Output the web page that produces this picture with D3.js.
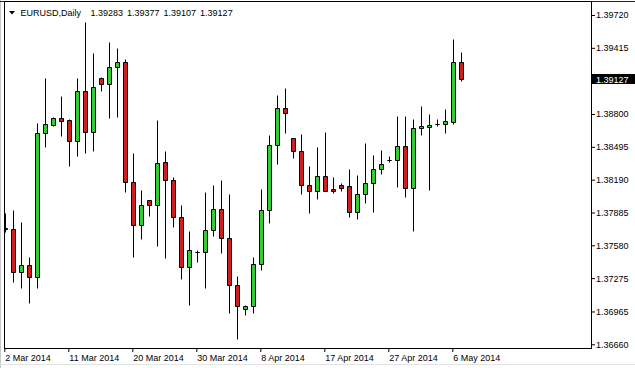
<!DOCTYPE html>
<html>
<head>
<meta charset="utf-8">
<script src="https://cdn.jsdelivr.net/npm/d3@7"></script>
<style>
  html, body { margin: 0; padding: 0; background: #fff; }
  svg { display: block; font-family: "Liberation Sans", Arial, sans-serif; }
</style>
</head>
<body>
<div id="chart"></div>
<script>
// EURUSD daily bars, 2 Mar - 7 May 2014 (Sun-Fri sessions)
const dates = [
  "2014-03-02","2014-03-03","2014-03-04","2014-03-05","2014-03-06","2014-03-07",
  "2014-03-09","2014-03-10","2014-03-11","2014-03-12","2014-03-13","2014-03-14",
  "2014-03-16","2014-03-17","2014-03-18","2014-03-19","2014-03-20","2014-03-21",
  "2014-03-23","2014-03-24","2014-03-25","2014-03-26","2014-03-27","2014-03-28",
  "2014-03-30","2014-03-31","2014-04-01","2014-04-02","2014-04-03","2014-04-04",
  "2014-04-06","2014-04-07","2014-04-08","2014-04-09","2014-04-10","2014-04-11",
  "2014-04-13","2014-04-14","2014-04-15","2014-04-16","2014-04-17","2014-04-18",
  "2014-04-20","2014-04-21","2014-04-22","2014-04-23","2014-04-24","2014-04-25",
  "2014-04-27","2014-04-28","2014-04-29","2014-04-30","2014-05-01","2014-05-02",
  "2014-05-04","2014-05-05","2014-05-06","2014-05-07"
];
const open = [
  1.37745,1.37729,1.37335,1.37394,1.37288,1.38621,
  1.38695,1.38760,1.38744,1.38546,1.39011,1.38630,
  1.39132,1.39076,1.39234,1.39280,1.38165,1.37766,
  1.37998,1.37952,1.38351,1.38184,1.37840,1.37381,
  1.37522,1.37515,1.37719,1.37914,1.37645,1.37208,
  1.36985,1.37013,1.37403,1.37911,1.38509,1.38853,
  1.38574,1.38453,1.38140,1.38087,1.38224,1.38100,
  1.38140,1.38131,1.37892,1.38057,1.38156,1.38286,
  1.38376,1.38370,1.38500,1.38110,1.38667,1.38676,
  1.38705,1.38704,1.38728,1.39283
];
const high = [
  1.37877,1.37908,1.37799,1.37468,1.38719,1.39132,
  1.38775,1.38967,1.38751,1.39132,1.39655,1.39364,
  1.39147,1.39469,1.39413,1.39308,1.38435,1.38094,
  1.38000,1.38744,1.38456,1.38212,1.37952,1.37716,
  1.37536,1.38075,1.38140,1.38187,1.38054,1.37295,
  1.37025,1.37474,1.38106,1.38605,1.38977,1.39042,
  1.38576,1.38614,1.38317,1.38493,1.38633,1.38217,
  1.38156,1.38289,1.38233,1.38531,1.38419,1.38465,
  1.38410,1.38781,1.38781,1.38754,1.38874,1.38800,
  1.38754,1.38846,1.39497,1.39377
];
const low = [
  1.37706,1.37242,1.37186,1.37046,1.37186,1.38496,
  1.38690,1.38598,1.38320,1.38412,1.38435,1.38459,
  1.39017,1.38766,1.38775,1.38078,1.37468,1.37636,
  1.37855,1.37576,1.37465,1.37747,1.37264,1.37025,
  1.37427,1.37186,1.37669,1.37511,1.36953,1.36706,
  1.36935,1.36948,1.37350,1.37784,1.38335,1.38621,
  1.38394,1.38059,1.37883,1.38013,1.38085,1.38063,
  1.38087,1.37846,1.37824,1.37976,1.37892,1.38242,
  1.38357,1.38124,1.38032,1.37716,1.38605,1.38094,
  1.38689,1.38626,1.38704,1.39107
];
const close = [
  1.37735,1.37335,1.37394,1.37288,1.38621,1.38704,
  1.38760,1.38738,1.38546,1.39011,1.38630,1.39048,
  1.39076,1.39234,1.39280,1.38165,1.37766,1.37952,
  1.37952,1.38342,1.38184,1.37840,1.37381,1.37533,
  1.37520,1.37719,1.37914,1.37645,1.37208,1.37016,
  1.37013,1.37403,1.37905,1.38509,1.38853,1.38807,
  1.38453,1.38140,1.38087,1.38224,1.38087,1.38087,
  1.38115,1.37892,1.38057,1.38156,1.38286,1.38335,
  1.38374,1.38500,1.38110,1.38667,1.38689,1.38698,
  1.38703,1.38735,1.39280,1.39127
];
const priceTicks = [1.39720,1.39415,1.38800,1.38495,1.38190,1.37885,1.37580,1.37275,1.36965,1.36660];
const dateTicks = ["2014-03-02","2014-03-11","2014-03-20","2014-03-30","2014-04-08","2014-04-17","2014-04-27","2014-05-06"];
const dateTickLabels = ["2 Mar 2014","11 Mar 2014","20 Mar 2014","30 Mar 2014","8 Apr 2014","17 Apr 2014","27 Apr 2014","6 May 2014"];
const symbol = "EURUSD,Daily";

const W = 635, H = 368;
const plotL = 4, plotT = 1, plotR = 591, plotB = 348;

const bars = dates.map((d, i) => ({ i: i, date: d, o: open[i], h: high[i], l: low[i], c: close[i] }));
const last = bars[bars.length - 1];

const x = d3.scaleLinear().domain([0, dates.length - 1]).range([5.3, 5.3 + 8 * (dates.length - 1)]);
const y = d3.scaleLinear().domain([1.36660, 1.39720]).range([344.3, 15]);

const svg = d3.select("#chart").append("svg")
  .attr("width", W)
  .attr("height", H);

svg.append("rect")
  .attr("x", 0).attr("y", 0).attr("width", W).attr("height", H)
  .attr("fill", "#fff");

// window edges
svg.append("line")
  .attr("x1", 0.5).attr("x2", 0.5).attr("y1", 0).attr("y2", H)
  .attr("stroke", "#c8c8c8");
svg.append("line")
  .attr("x1", 0).attr("x2", W).attr("y1", 364.5).attr("y2", 364.5)
  .attr("stroke", "#e2e2e2");
svg.append("line")
  .attr("x1", 0).attr("x2", W).attr("y1", plotT + 0.5).attr("y2", plotT + 0.5)
  .attr("stroke", "#222");

svg.append("clipPath").attr("id", "plot")
  .append("rect")
  .attr("x", plotL + 1).attr("y", plotT + 1)
  .attr("width", plotR - plotL - 1).attr("height", plotB - plotT - 1);

const plot = svg.append("g").attr("clip-path", "url(#plot)");

const cx = d => Math.round(x(d.i)) + 0.5;
const py = v => Math.round(y(v)) + 0.5;

// wicks
plot.selectAll("line.wick")
  .data(bars)
  .enter()
  .append("line")
  .attr("class", "wick")
  .attr("x1", cx).attr("x2", cx)
  .attr("y1", d => py(d.h))
  .attr("y2", d => py(d.l))
  .attr("stroke", "#000")
  .attr("stroke-width", 1);

// bodies
plot.selectAll("path.body")
  .data(bars)
  .enter()
  .append("path")
  .attr("class", "body")
  .attr("d", d => {
    const t = py(Math.max(d.o, d.c)), b = py(Math.min(d.o, d.c));
    const x0 = cx(d) - 2;
    return "M" + x0 + "," + t + "h4V" + b + "h-4Z";
  })
  .attr("fill", d => d.c >= d.o ? "#33cc33" : "#cc2020")
  .attr("stroke", "#000")
  .attr("stroke-width", 1);

// frame
svg.append("rect")
  .attr("x", plotL + 0.5).attr("y", plotT + 0.5)
  .attr("width", plotR - plotL).attr("height", plotB - plotT)
  .attr("fill", "none").attr("stroke", "#000");

// price axis
const yAxis = svg.append("g")
  .attr("transform", "translate(" + plotR + ",0)")
  .call(d3.axisRight(y).tickValues(priceTicks).tickSize(4).tickPadding(1).tickFormat(d3.format(".5f")));
yAxis.select(".domain").remove();
yAxis.selectAll("text")
  .attr("fill", "#000")
  .style("font-size", "9px")
  .style("font-family", "'Liberation Sans', Arial, sans-serif");

// current price label
const lastY = y(last.c);
svg.append("rect")
  .attr("x", plotR + 1).attr("y", Math.round(lastY) - 5)
  .attr("width", W - plotR - 1).attr("height", 10)
  .attr("fill", "#000");
svg.append("text")
  .attr("x", plotR + 5).attr("y", Math.round(lastY) + 3.5)
  .attr("fill", "#fff")
  .style("font-size", "9px")
  .text(d3.format(".5f")(last.c));

// date axis
const xAxis = svg.append("g")
  .attr("transform", "translate(0," + plotB + ")")
  .call(d3.axisBottom(x)
    .tickValues(dateTicks.map(d => dates.indexOf(d)))
    .tickSize(4)
    .tickFormat((d, i) => dateTickLabels[i]));
xAxis.select(".domain").remove();
xAxis.selectAll(".tick line").attr("transform", "translate(-1,0)");
xAxis.selectAll("text")
  .attr("fill", "#000")
  .attr("text-anchor", "start")
  .attr("x", -0.5)
  .attr("y", 13)
  .attr("dy", 0)
  .style("font-size", "9px")
  .style("font-family", "'Liberation Sans', Arial, sans-serif");

// header
svg.append("path")
  .attr("d", "M9,11h6l-3,3.5Z")
  .attr("fill", "#000");
svg.append("text")
  .attr("x", 20.5).attr("y", 16)
  .style("font-size", "9px")
  .attr("fill", "#000")
  .text(symbol);
svg.append("text")
  .attr("x", 90.5).attr("y", 16)
  .style("font-size", "9px")
  .style("word-spacing", "1.5px")
  .attr("fill", "#000")
  .text([last.o, last.h, last.l, last.c].map(d3.format(".5f")).join(" "));
</script>
</body>
</html>
